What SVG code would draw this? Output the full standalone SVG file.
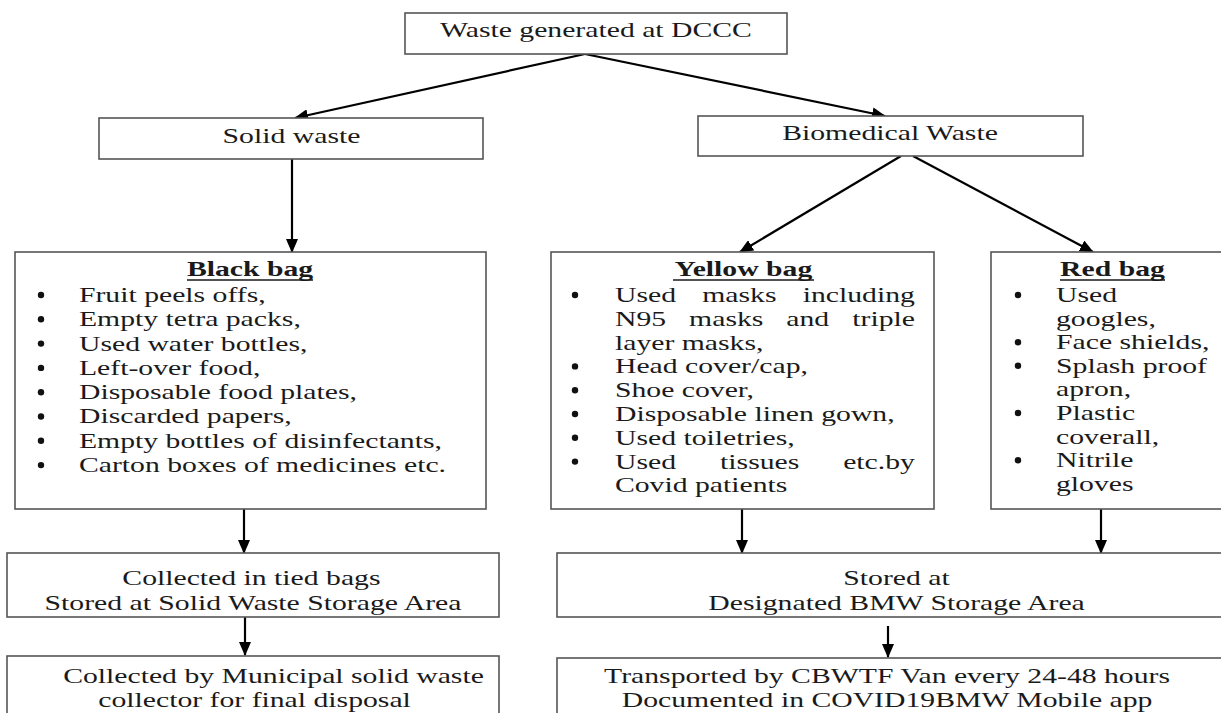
<svg xmlns="http://www.w3.org/2000/svg" width="1221" height="713" viewBox="0 0 1221 713">
<defs>
<marker id="ah" markerUnits="userSpaceOnUse" markerWidth="14" markerHeight="12" refX="13" refY="6" orient="auto">
<path d="M0,0 L14,6 L0,12 Z" fill="#000"/>
</marker>
<style>
.box{fill:#fff;stroke:#555;stroke-width:1.6}
.t{font-family:"Liberation Serif","Times New Roman",serif;font-size:21px;fill:#1a1a1a}
.c{text-anchor:middle}
.e{text-anchor:end}
.b{font-weight:bold}
.ul{stroke:#1a1a1a;stroke-width:1.5}
.bul{fill:#111}
.con{stroke:#000;stroke-width:2.2;fill:none;marker-end:url(#ah)}
</style>
</defs>
<rect width="1221" height="713" fill="#fff"/>

<g id="connectors">
<line class="con" x1="585" y1="54" x2="295" y2="118"/>
<line class="con" x1="585" y1="54" x2="885" y2="116"/>
<line class="con" x1="292" y1="159" x2="292" y2="252"/>
<line class="con" x1="901" y1="156" x2="740" y2="252"/>
<line class="con" x1="913" y1="156" x2="1093" y2="252"/>
<line class="con" x1="244" y1="509" x2="244" y2="553"/>
<line class="con" x1="742" y1="509" x2="742" y2="553"/>
<line class="con" x1="1101" y1="509" x2="1101" y2="553"/>
<line class="con" x1="245" y1="617" x2="245" y2="655"/>
<line class="con" x1="888" y1="626" x2="888" y2="657"/>
</g>

<g id="top">
<rect class="box" x="405" y="13" width="382" height="41"/>
<text class="t c" transform="scale(1.415,1)" x="421.2" y="37">Waste generated at DCCC</text>
</g>

<g id="solid">
<rect class="box" x="99" y="118" width="384" height="41"/>
<text class="t c" transform="scale(1.415,1)" x="206" y="143">Solid waste</text>
</g>

<g id="biomedical">
<rect class="box" x="698" y="116" width="385" height="40"/>
<text class="t c" transform="scale(1.415,1)" x="629" y="140">Biomedical Waste</text>
</g>

<g id="black-bag">
<rect class="box" x="15" y="252" width="471" height="257"/>
<line class="ul" x1="187" y1="280" x2="313" y2="280"/>
<g class="bul">
<circle cx="41" cy="295" r="3.2"/><circle cx="41" cy="319.3" r="3.2"/><circle cx="41" cy="343.6" r="3.2"/><circle cx="41" cy="367.9" r="3.2"/>
<circle cx="41" cy="392.2" r="3.2"/><circle cx="41" cy="416.5" r="3.2"/><circle cx="41" cy="440.8" r="3.2"/><circle cx="41" cy="465.1" r="3.2"/>
</g>
<g transform="scale(1.415,1)">
<text class="t b c" x="176.7" y="276">Black bag</text>
<text class="t" x="55.8" y="302">Fruit peels offs,</text>
<text class="t" x="55.8" y="326.3">Empty tetra packs,</text>
<text class="t" x="55.8" y="350.6">Used water bottles,</text>
<text class="t" x="55.8" y="374.9">Left-over food,</text>
<text class="t" x="55.8" y="399.2">Disposable food plates,</text>
<text class="t" x="55.8" y="423.5">Discarded papers,</text>
<text class="t" x="55.8" y="447.8">Empty bottles of disinfectants,</text>
<text class="t" x="55.8" y="472.1">Carton boxes of medicines etc.</text>
</g>
</g>

<g id="yellow-bag">
<rect class="box" x="551" y="252" width="383" height="257"/>
<line class="ul" x1="673" y1="280" x2="814" y2="280"/>
<g class="bul">
<circle cx="575" cy="295" r="3.2"/><circle cx="575" cy="366.4" r="3.2"/><circle cx="575" cy="390.2" r="3.2"/>
<circle cx="575" cy="414" r="3.2"/><circle cx="575" cy="437.8" r="3.2"/><circle cx="575" cy="461.6" r="3.2"/>
</g>
<g transform="scale(1.415,1)">
<text class="t b c" x="525.4" y="276">Yellow bag</text>
<text class="t" x="434.6" y="302">Used</text>
<text class="t" x="496.3" y="302">masks</text>
<text class="t e" x="646.6" y="302">including</text>
<text class="t" x="434.6" y="325.8">N95</text>
<text class="t" x="487" y="325.8">masks</text>
<text class="t" x="555.7" y="325.8">and</text>
<text class="t e" x="646.6" y="325.8">triple</text>
<text class="t" x="434.6" y="349.6">layer masks,</text>
<text class="t" x="434.6" y="373.4">Head cover/cap,</text>
<text class="t" x="434.6" y="397.2">Shoe cover,</text>
<text class="t" x="434.6" y="421">Disposable linen gown,</text>
<text class="t" x="434.6" y="444.8">Used toiletries,</text>
<text class="t" x="434.6" y="468.6">Used</text>
<text class="t" x="508.9" y="468.6">tissues</text>
<text class="t e" x="646.6" y="468.6">etc.by</text>
<text class="t" x="434.6" y="492.4">Covid patients</text>
</g>
</g>

<g id="red-bag">
<rect class="box" x="991" y="252" width="240" height="257"/>
<line class="ul" x1="1060" y1="280" x2="1165" y2="280"/>
<g class="bul">
<circle cx="1018" cy="295" r="3.2"/><circle cx="1018" cy="342.2" r="3.2"/><circle cx="1018" cy="365.8" r="3.2"/>
<circle cx="1018" cy="413" r="3.2"/><circle cx="1018" cy="460.2" r="3.2"/>
</g>
<g transform="scale(1.415,1)">
<text class="t b c" x="786.2" y="276">Red bag</text>
<text class="t" x="746.3" y="302">Used</text>
<text class="t" x="746.3" y="325.6">googles,</text>
<text class="t" x="746.3" y="349.2">Face shields,</text>
<text class="t" x="746.3" y="372.8">Splash proof</text>
<text class="t" x="746.3" y="396.4">apron,</text>
<text class="t" x="746.3" y="420">Plastic</text>
<text class="t" x="746.3" y="443.6">coverall,</text>
<text class="t" x="746.3" y="467.2">Nitrile</text>
<text class="t" x="746.3" y="490.8">gloves</text>
</g>
</g>

<g id="collected-tied">
<rect class="box" x="7" y="553" width="492" height="64"/>
<g transform="scale(1.415,1)">
<text class="t c" x="177.7" y="585">Collected in tied bags</text>
<text class="t c" x="178.8" y="610">Stored at Solid Waste Storage Area</text>
</g>
</g>

<g id="stored-bmw">
<rect class="box" x="557" y="553" width="680" height="64"/>
<g transform="scale(1.415,1)">
<text class="t c" x="633.6" y="585">Stored at</text>
<text class="t c" x="633.6" y="610">Designated BMW Storage Area</text>
</g>
</g>

<g id="municipal">
<rect class="box" x="7" y="656" width="492" height="70"/>
<g transform="scale(1.415,1)">
<text class="t c" x="193.3" y="683">Collected by Municipal solid waste</text>
<text class="t c" x="179.9" y="707">collector for final disposal</text>
</g>
</g>

<g id="transported">
<rect class="box" x="557" y="658" width="680" height="70"/>
<g transform="scale(1.415,1)">
<text class="t c" x="626.9" y="683">Transported by CBWTF Van every 24-48 hours</text>
<text class="t c" x="626.9" y="707">Documented in COVID19BMW Mobile app</text>
</g>
</g>
</svg>
